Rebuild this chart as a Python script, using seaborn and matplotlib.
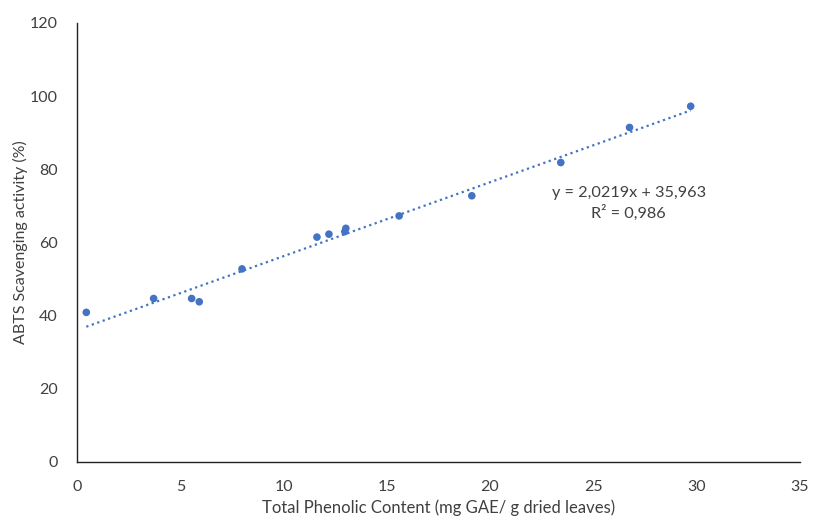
import numpy as np
import pandas as pd
import matplotlib
matplotlib.use("Agg")
import matplotlib.pyplot as plt
import seaborn as sns

# values
phenolic = [0.45, 3.71, 5.55, 5.92, 7.99, 11.62, 12.2, 12.97, 13.02, 15.6, 19.12, 23.43, 26.76, 29.72]
abts = [40.8, 44.6, 44.6, 43.7, 52.7, 61.4, 62.2, 62.9, 63.8, 67.2, 72.7, 81.8, 91.4, 97.2]
slope = 2.0219
intercept = 35.963
r2_label = "0,986"

df = pd.DataFrame({'tpc': phenolic, 'abts': abts})

sns.set_style("white")
plt.rcParams['font.family'] = ['Lato', 'DejaVu Sans']

blue = '#4472C4'
fig = plt.figure(figsize=(8.16, 5.21), dpi=100)
ax = fig.add_axes([0.0944, 0.1142, 0.8856, 0.8418])

sns.scatterplot(data=df, x='tpc', y='abts', color=blue, s=30, edgecolor='none', ax=ax, zorder=3)

xs = np.array([min(phenolic), max(phenolic)])
ax.plot(xs, slope * xs + intercept, linestyle=(0, (1, 1.6)), color=blue, linewidth=1.6, zorder=2)

ax.text(26.72, 70.6, "y = 2,0219x + 35,963\nR² = " + r2_label, ha='center', va='center',
        multialignment='center', fontsize=11.7, color='#404040', linespacing=1.4)

ax.set_xlim(0, 35)
ax.set_ylim(0, 120)
ax.set_xticks(range(0, 36, 5))
ax.set_yticks(range(0, 121, 20))
ax.tick_params(axis='both', length=0, labelsize=11.5, labelcolor='#404040')
ax.tick_params(axis='x', pad=13)
ax.tick_params(axis='y', pad=14)
ax.set_xlabel('Total Phenolic Content (mg GAE/ g dried leaves)', fontsize=12, color='#404040', labelpad=4)
ax.set_ylabel('ABTS Scavenging activity (%)', fontsize=11.5, color='#404040', labelpad=1)

for side in ['top', 'right']:
    ax.spines[side].set_visible(False)
for side in ['left', 'bottom']:
    ax.spines[side].set_color('#222222')
    ax.spines[side].set_linewidth(1.0)

fig.savefig('out.png', dpi=100)
